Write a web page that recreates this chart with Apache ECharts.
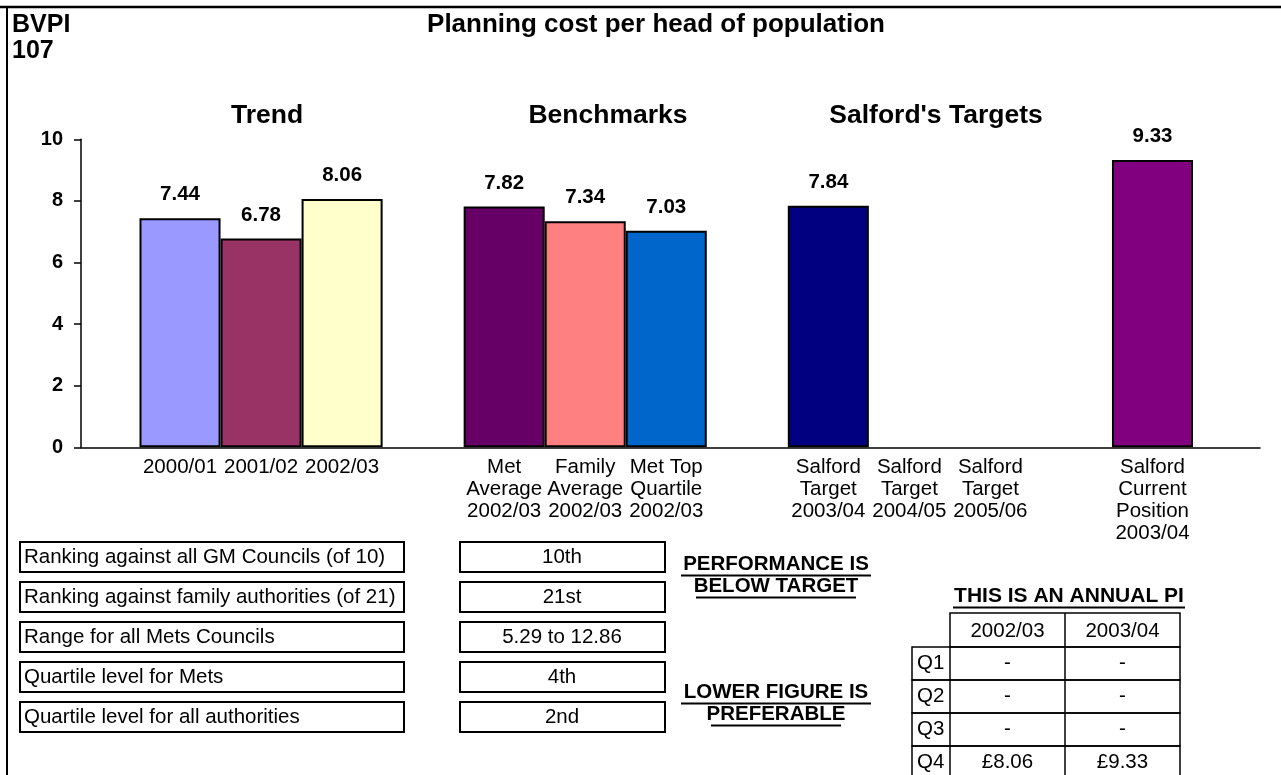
<!DOCTYPE html>
<html>
<head>
<meta charset="utf-8">
<script src="https://cdn.jsdelivr.net/npm/echarts@6/dist/echarts.min.js"></script>
<style>
html,body{margin:0;padding:0;background:#fff;}
#chart{width:1281px;height:775px;}
</style>
</head>
<body>
<div id="chart"></div>
<script>
// ---- data ----
const categories = ['2000/01', '2001/02', '2002/03', '',
  'Met\nAverage\n2002/03', 'Family\nAverage\n2002/03', 'Met Top\nQuartile\n2002/03', '',
  'Salford\nTarget\n2003/04', 'Salford\nTarget\n2004/05', 'Salford\nTarget\n2005/06', '',
  'Salford\nCurrent\nPosition\n2003/04'];
const values = [7.44, 6.78, 8.06, null, 7.82, 7.34, 7.03, null, 7.84, null, null, null, 9.33];
const barColors = ['#9999FF', '#993366', '#FFFFCC', null, '#660066', '#FF8080', '#0066CC', null, '#000080', null, null, null, '#800080'];
const sectionTitles = ['Trend', 'Benchmarks', "Salford's Targets"];
const mainTitle = 'Planning cost per head of population';
const indicator = ['BVPI', '107'];
const rankLabels = ['Ranking against all GM Councils (of 10)', 'Ranking against family authorities (of 21)',
  'Range for all Mets Councils', 'Quartile level for Mets', 'Quartile level for all authorities'];
const rankValues = ['10th', '21st', '5.29 to 12.86', '4th', '2nd'];
const noteTop = ['PERFORMANCE IS', 'BELOW TARGET'];
const noteBottom = ['LOWER FIGURE IS', 'PREFERABLE'];
const annualNote = 'THIS IS AN ANNUAL PI';
const quartileYears = ['2002/03', '2003/04'];
const quartileRows = ['Q1', 'Q2', 'Q3', 'Q4'];
const quartile0203 = ['-', '-', '-', '£8.06'];
const quartile0304 = ['-', '-', '-', '£9.33'];

// ---- layout ----
const FONT = 'Liberation Sans, Arial, Helvetica, sans-serif';
const W = 1281, H = 775;
const plotTop = 139.3, plotBottom = 447.3;
const catLeft = 139.5, catRight = 1193, yAxisX = 81;

const graphics = [];
function txt(text, x, y, size, weight, align, valign) {
  graphics.push({type: 'text', x: x, y: y, silent: true,
    style: {text: text, font: (weight || 'normal') + ' ' + size + 'px ' + FONT,
      fill: '#000', textAlign: align || 'left', textVerticalAlign: valign || 'middle',
      align: align || 'left', verticalAlign: valign || 'middle'}});
}
function line(x1, y1, x2, y2, w) {
  graphics.push({type: 'line', silent: true, shape: {x1: x1, y1: y1, x2: x2, y2: y2},
    style: {stroke: '#000', lineWidth: w || 1}});
}
function rect(x, y, w, h, lw) {
  graphics.push({type: 'rect', silent: true, shape: {x: x, y: y, width: w, height: h},
    style: {fill: 'none', stroke: '#000', lineWidth: lw || 1}});
}

// outer frame (top and left visible)
line(0, 7, W, 7, 2.5);
line(7, 7, 7, H, 2);

// headings
txt(indicator[0], 12, 25, 25, 'bold');
txt(indicator[1], 12, 51, 25, 'bold');
txt(mainTitle, 656, 25, 26, 'bold', 'center');
const sectionX = [267, 608, 936];
sectionTitles.forEach((t, i) => txt(t, sectionX[i], 116, 26.5, 'bold', 'center'));

// ranking boxes
rankLabels.forEach((t, i) => {
  const cy = 557 + i * 40;
  rect(20, cy - 15, 384, 30, 2);
  txt(t, 24, cy, 20.5);
  rect(460, cy - 15, 205, 30, 2);
  txt(rankValues[i], 562, cy, 20.5, 'normal', 'center');
});

// notes with underline
function underlined(t, cx, cy, size, halfW) {
  txt(t, cx, cy, size, 'bold', 'center');
  line(cx - halfW, cy + 11.5, cx + halfW, cy + 11.5, 2);
}
underlined(noteTop[0], 776, 564, 20.5, 95);
underlined(noteTop[1], 776, 586, 20.5, 80);
underlined(noteBottom[0], 776, 692, 20.5, 95);
underlined(noteBottom[1], 776, 714, 20.5, 65);
underlined(annualNote, 1069, 596, 21, 116);

// quartile table
const colX = [912, 950, 1065, 1180];
const rowY = [613, 647, 680, 713, 746, 778];
rect(colX[1], rowY[0], colX[3] - colX[1], rowY[1] - rowY[0], 1.5);
line(colX[2], rowY[0], colX[2], rowY[5], 1.5);
quartileYears.forEach((y, i) => txt(y, (colX[i + 1] + colX[i + 2]) / 2, (rowY[0] + rowY[1]) / 2 + 1, 20.5, 'normal', 'center'));
quartileRows.forEach((q, i) => {
  const top = rowY[i + 1], bot = rowY[i + 2];
  rect(colX[0], top, colX[3] - colX[0], bot - top, 1.5);
  line(colX[1], top, colX[1], bot, 1.5);
  txt(q, colX[0] + 5, (top + bot) / 2, 20.5);
  txt(quartile0203[i], (colX[1] + colX[2]) / 2, (top + bot) / 2, 20.5, 'normal', 'center');
  txt(quartile0304[i], (colX[2] + colX[3]) / 2, (top + bot) / 2, 20.5, 'normal', 'center');
});

const barData = values.map((v, i) => v == null ? null : ({
  value: v,
  itemStyle: {color: barColors[i], borderColor: '#000', borderWidth: 2}
}));

const chart = echarts.init(document.getElementById('chart'), null, {renderer: 'canvas'});
chart.setOption({
  backgroundColor: '#fff',
  animation: false,
  grid: [
    {left: catLeft, right: W - catRight, top: plotTop, bottom: H - plotBottom, containLabel: false},
    {left: yAxisX, right: 21, top: plotTop, bottom: H - plotBottom, containLabel: false}
  ],
  xAxis: [
    {type: 'category', gridIndex: 0, data: categories,
      axisLine: {show: false}, axisTick: {show: false},
      axisLabel: {interval: 0, margin: 9, color: '#000', fontFamily: FONT, fontSize: 20.5, lineHeight: 22,
        verticalAlign: 'top'}},
    {type: 'category', gridIndex: 1, data: [''], offset: 5,
      axisLine: {show: true, lineStyle: {color: '#000', width: 1.5}},
      axisTick: {show: false}, axisLabel: {show: false}}
  ],
  yAxis: [
    {type: 'value', gridIndex: 0, min: 0, max: 10, interval: 2, offset: catLeft - yAxisX,
      axisLine: {show: true, lineStyle: {color: '#000', width: 1.5}},
      axisTick: {show: true, length: 7, lineStyle: {color: '#000', width: 1.5}},
      splitLine: {show: false},
      axisLabel: {margin: 18, color: '#000', fontFamily: FONT, fontWeight: 'bold', fontSize: 20}},
    {type: 'value', gridIndex: 1, show: false}
  ],
  series: [{
    type: 'bar', xAxisIndex: 0, yAxisIndex: 0,
    data: barData,
    barCategoryGap: '0%',
    label: {show: true, position: 'top', distance: 13, color: '#000', fontFamily: FONT,
      fontWeight: 'bold', fontSize: 20.5, formatter: p => p.value.toFixed(2)}
  }],
  graphic: graphics
});
</script>
</body>
</html>
